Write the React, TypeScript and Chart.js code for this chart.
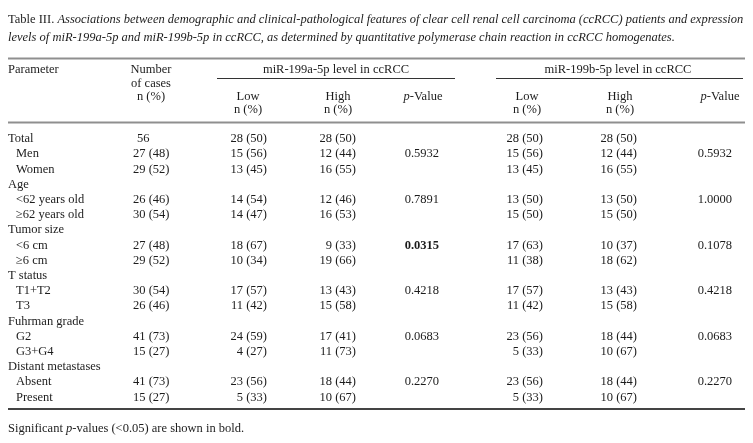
import React, { useEffect, useRef } from "react";
import { Chart, registerables } from "chart.js";

Chart.register(...registerables);

const titleLead = "Table III. ";
const titleLine1 =
  "Associations between demographic and clinical-pathological features of clear cell renal cell carcinoma (ccRCC) patients and expression";
const titleLine2 =
  "levels of miR-199a-5p and miR-199b-5p in ccRCC, as determined by quantitative polymerase chain reaction in ccRCC homogenates.";
const footnotePre = "Significant ";
const footnoteItalic = "p";
const footnotePost = "-values (<0.05) are shown in bold.";

const groupTitles = ["miR-199a-5p level in ccRCC", "miR-199b-5p level in ccRCC"];

const parameters = [
  "Total", "Men", "Women", "Age", "<62 years old", "≥62 years old",
  "Tumor size", "<6 cm", "≥6 cm", "T status", "T1+T2", "T3",
  "Fuhrman grade", "G2", "G3+G4", "Distant metastases", "Absent", "Present",
];
const indented = [false, true, true, false, true, true, false, true, true, false, true, true, false, true, true, false, true, true];
const numberOfCases = ["56", "27 (48)", "29 (52)", "", "26 (46)", "30 (54)", "", "27 (48)", "29 (52)", "", "30 (54)", "26 (46)", "", "41 (73)", "15 (27)", "", "41 (73)", "15 (27)"];
const lowA = ["28 (50)", "15 (56)", "13 (45)", "", "14 (54)", "14 (47)", "", "18 (67)", "10 (34)", "", "17 (57)", "11 (42)", "", "24 (59)", "4 (27)", "", "23 (56)", "5 (33)"];
const highA = ["28 (50)", "12 (44)", "16 (55)", "", "12 (46)", "16 (53)", "", "9 (33)", "19 (66)", "", "13 (43)", "15 (58)", "", "17 (41)", "11 (73)", "", "18 (44)", "10 (67)"];
const pA = ["", "0.5932", "", "", "0.7891", "", "", "0.0315", "", "", "0.4218", "", "", "0.0683", "", "", "0.2270", ""];
const lowB = ["28 (50)", "15 (56)", "13 (45)", "", "13 (50)", "15 (50)", "", "17 (63)", "11 (38)", "", "17 (57)", "11 (42)", "", "23 (56)", "5 (33)", "", "23 (56)", "5 (33)"];
const highB = ["28 (50)", "12 (44)", "16 (55)", "", "13 (50)", "15 (50)", "", "10 (37)", "18 (62)", "", "13 (43)", "15 (58)", "", "18 (44)", "10 (67)", "", "18 (44)", "10 (67)"];
const pB = ["", "0.5932", "", "", "1.0000", "", "", "0.1078", "", "", "0.4218", "", "", "0.0683", "", "", "0.2270", ""];

const W = 753;
const H = 443;
const FONT = '"Liberation Serif", "Times New Roman", serif';
const TEXT = "#1c1c1c";

const tablePlugin = {
  id: "tablePlugin",
  afterDraw(chart: any) {
    const ctx = chart.ctx as CanvasRenderingContext2D;
    const xs = chart.scales.x;
    const ys = chart.scales.y;
    const X = (v: number) => xs.getPixelForValue(v);
    const Y = (v: number) => ys.getPixelForValue(v);
    const size = 12.5;
    const reg = `${size}px ${FONT}`;
    const ital = `italic ${size}px ${FONT}`;
    const bold = `bold ${size}px ${FONT}`;

    ctx.save();
    ctx.fillStyle = TEXT;
    ctx.textBaseline = "middle";

    const text = (s: string, x: number, y: number, align: CanvasTextAlign = "left", font = reg) => {
      ctx.font = font;
      ctx.textAlign = align;
      ctx.fillText(s, X(x), Y(y));
    };

    // Title
    ctx.font = reg;
    ctx.textAlign = "left";
    ctx.fillText(titleLead, X(8), Y(20));
    const leadW = ctx.measureText(titleLead).width;
    ctx.font = ital;
    ctx.fillText(titleLine1, X(8) + leadW, Y(20));
    ctx.fillText(titleLine2, X(8), Y(38));

    // Rules
    const hline = (x1: number, x2: number, y: number, color: string, lw: number) => {
      ctx.strokeStyle = color;
      ctx.lineWidth = lw;
      ctx.beginPath();
      ctx.moveTo(X(x1), Y(y));
      ctx.lineTo(X(x2), Y(y));
      ctx.stroke();
    };
    hline(8, 745, 58.5, "#8f8f8f", 2);
    hline(217, 455, 78.5, "#333", 1);
    hline(496, 743, 78.5, "#333", 1);
    hline(8, 745, 122.5, "#8f8f8f", 2);
    hline(8, 745, 409, "#444", 2);

    // Header
    const hy1 = 70;
    text("Parameter", 8, hy1);
    text("Number", 151, hy1, "center");
    text("of cases", 151, hy1 + 13.5, "center");
    text("n (%)", 151, hy1 + 27, "center");
    text(groupTitles[0], 336, hy1, "center");
    text(groupTitles[1], 618, hy1, "center");
    const hy2 = 96.5;
    const subCols = [
      { x: 248, label: "Low" },
      { x: 338, label: "High" },
      { x: 527, label: "Low" },
      { x: 620, label: "High" },
    ];
    subCols.forEach((c) => {
      text(c.label, c.x, hy2, "center");
      text("n (%)", c.x, hy2 + 13.5, "center");
    });
    const pHeader = (cx: number) => {
      ctx.font = ital;
      const pw = ctx.measureText("p").width;
      ctx.font = reg;
      const rw = ctx.measureText("-Value").width;
      const start = X(cx) - (pw + rw) / 2;
      ctx.textAlign = "left";
      ctx.font = ital;
      ctx.fillText("p", start, Y(hy2));
      ctx.font = reg;
      ctx.fillText("-Value", start + pw, Y(hy2));
    };
    pHeader(423);
    pHeader(720);

    // Body
    const rowY0 = 139;
    const rowStep = 15.2;
    parameters.forEach((p, i) => {
      const y = rowY0 + i * rowStep;
      text(p, indented[i] ? 16 : 8, y);
      if (numberOfCases[i]) text(numberOfCases[i], i === 0 ? 137 : 133, y);
      if (lowA[i]) text(lowA[i], 267, y, "right");
      if (highA[i]) text(highA[i], 356, y, "right");
      if (pA[i]) text(pA[i], 439, y, "right", parseFloat(pA[i]) < 0.05 ? bold : reg);
      if (lowB[i]) text(lowB[i], 543, y, "right");
      if (highB[i]) text(highB[i], 637, y, "right");
      if (pB[i]) text(pB[i], 732, y, "right", parseFloat(pB[i]) < 0.05 ? bold : reg);
    });

    // Footnote
    const fy = 429;
    ctx.textAlign = "left";
    ctx.font = reg;
    ctx.fillText(footnotePre, X(8), Y(fy));
    let fx = X(8) + ctx.measureText(footnotePre).width;
    ctx.font = ital;
    ctx.fillText(footnoteItalic, fx, Y(fy));
    fx += ctx.measureText(footnoteItalic).width;
    ctx.font = reg;
    ctx.fillText(footnotePost, fx, Y(fy));

    ctx.restore();
  },
};

export default function App() {
  const ref = useRef<HTMLCanvasElement | null>(null);
  useEffect(() => {
    if (!ref.current) return;
    const chart = new Chart(ref.current, {
      type: "scatter",
      data: { datasets: [{ data: [], pointRadius: 0 }] },
      options: {
        animation: false,
        responsive: false,
        events: [],
        layout: { padding: 0 },
        plugins: { legend: { display: false }, tooltip: { enabled: false } },
        scales: {
          x: { type: "linear", min: 0, max: W, display: false },
          y: { type: "linear", min: 0, max: H, reverse: true, display: false },
        },
      },
      plugins: [tablePlugin],
    });
    return () => chart.destroy();
  }, []);
  return (
    <div style={{ position: "fixed", left: 0, top: 0, width: W, height: H, background: "#fff" }}>
      <canvas ref={ref} width={W} height={H} style={{ width: W, height: H, display: "block" }} />
    </div>
  );
}
